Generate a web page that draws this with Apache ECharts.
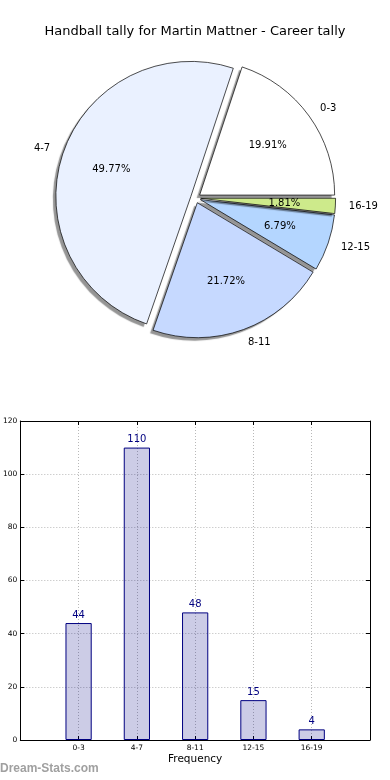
<!DOCTYPE html>
<html>
<head>
<meta charset="utf-8">
<script src="https://cdn.jsdelivr.net/npm/echarts@6/dist/echarts.min.js"></script>
<style>
html,body{margin:0;padding:0;background:#fff;}
#chart{width:390px;height:780px;}
</style>
</head>
<body>
<div id="chart"></div>
<script>
const chartTitle = 'Handball tally for Martin Mattner - Career tally';
const categories = ['0-3', '4-7', '8-11', '12-15', '16-19'];
const tallies = [44, 110, 48, 15, 4];
const yTicks = [0, 20, 40, 60, 80, 100, 120];
const axisName = 'Frequency';
const watermark = 'Dream-Stats.com';

const sliceColors = ['#ffffff', '#eaf1ff', '#c6d9ff', '#b4d6ff', '#cdea8b'];
const FONT = 'DejaVu Sans';
const PIE_R = 135;
const PIE_C = [195.6, 198];
const EXPLODE = 5;

const padCats = [''].concat(categories, ['']);
const padVals = ['-'].concat(tallies, ['-']);
const inner = (i) => i > 0 && i < padCats.length - 1;

const chart = echarts.init(document.getElementById('chart'), null, {renderer: 'canvas'});

const pieBase = {
  type: 'pie',
  center: PIE_C,
  startAngle: 0,
  clockwise: false,
  selectedMode: 'multiple',
  selectedOffset: EXPLODE,
  avoidLabelOverlap: false,
  emphasis: {disabled: true},
  silent: true
};

const option = {
  animation: false,
  backgroundColor: '#ffffff',
  textStyle: {fontFamily: FONT},
  title: {
    text: chartTitle,
    left: 'center',
    top: 20,
    textStyle: {fontFamily: FONT, fontSize: 13, fontWeight: 'normal', color: '#000'}
  },
  graphic: [{
    type: 'text',
    left: 0,
    top: 763,
    style: {text: watermark, fill: '#a0a0a0', font: 'bold 12px "Liberation Sans", sans-serif'}
  }],
  grid: {left: 19, right: 20, top: 421, bottom: 40, containLabel: false},
  xAxis: [{
    type: 'category',
    data: padCats,
    boundaryGap: false,
    position: 'bottom',
    axisLine: {show: true, onZero: false, lineStyle: {color: '#000', width: 1}},
    axisTick: {show: true, inside: true, length: 4, interval: inner, lineStyle: {color: '#000'}},
    axisLabel: {interval: inner, fontSize: 7.5, color: '#000', margin: 4, fontFamily: FONT},
    splitLine: {show: true, interval: inner, lineStyle: {color: '#b8b8b8', type: [1, 2], width: 1}},
    name: axisName,
    nameLocation: 'middle',
    nameGap: 14,
    nameTextStyle: {fontSize: 10.5, color: '#000', fontFamily: FONT, verticalAlign: 'top'}
  }, {
    type: 'category',
    data: padCats,
    boundaryGap: false,
    position: 'top',
    axisLine: {show: true, onZero: false, lineStyle: {color: '#000', width: 1}},
    axisTick: {show: true, inside: true, length: 4, interval: inner, lineStyle: {color: '#000'}},
    axisLabel: {show: false},
    splitLine: {show: false}
  }],
  yAxis: [{
    type: 'value',
    min: yTicks[0],
    max: yTicks[yTicks.length - 1],
    interval: yTicks[1] - yTicks[0],
    position: 'left',
    axisLine: {show: true, lineStyle: {color: '#000', width: 1}},
    axisTick: {show: true, inside: true, length: 4, lineStyle: {color: '#000'}},
    axisLabel: {fontSize: 7.5, color: '#000', margin: 3, fontFamily: FONT},
    splitLine: {show: true, lineStyle: {color: '#b8b8b8', type: [1, 2], width: 1}}
  }, {
    type: 'value',
    min: yTicks[0],
    max: yTicks[yTicks.length - 1],
    interval: yTicks[1] - yTicks[0],
    position: 'right',
    axisLine: {show: true, lineStyle: {color: '#000', width: 1}},
    axisTick: {show: true, inside: true, length: 4, lineStyle: {color: '#000'}},
    axisLabel: {show: false},
    splitLine: {show: false}
  }],
  series: [Object.assign({}, pieBase, {
    // filled wedges with drop shadow (no outline, so the shadow stays outside)
    radius: PIE_R,
    z: 2,
    data: categories.map((c, i) => ({name: c, value: tallies[i], selected: true, itemStyle: {color: sliceColors[i]}})),
    itemStyle: {
      borderWidth: 0,
      shadowColor: 'rgba(0,0,0,0.42)', shadowBlur: 1, shadowOffsetX: -3, shadowOffsetY: 3
    },
    select: {itemStyle: {borderWidth: 0}},
    label: {show: false},
    labelLine: {show: false}
  }), Object.assign({}, pieBase, {
    // wedge outlines + category labels
    radius: PIE_R,
    z: 3,
    data: categories.map((c, i) => ({name: c, value: tallies[i], selected: true})),
    itemStyle: {color: 'rgba(0,0,0,0)', borderColor: '#000', borderWidth: 0.7},
    select: {itemStyle: {color: 'rgba(0,0,0,0)', borderColor: '#000', borderWidth: 0.7}},
    label: {
      show: true, position: 'outside', formatter: '{b}', fontSize: 10, color: '#000',
      fontFamily: FONT, distanceToLabelLine: 0, bleedMargin: 0, overflow: 'none'
    },
    labelLine: {show: false, length: PIE_R * 0.1, length2: 0}
  }), Object.assign({}, pieBase, {
    // percentage labels at 0.6 R
    radius: [PIE_R * 0.2, PIE_R],
    z: 4,
    data: categories.map((c, i) => ({name: c, value: tallies[i], selected: true})),
    itemStyle: {color: 'rgba(0,0,0,0)', borderWidth: 0},
    select: {itemStyle: {color: 'rgba(0,0,0,0)', borderWidth: 0}},
    label: {
      show: true, position: 'inside', formatter: '{d}%', fontSize: 10, color: '#000',
      fontFamily: FONT, textBorderWidth: 0
    },
    labelLine: {show: false}
  }), {
    type: 'bar',
    xAxisIndex: 0,
    yAxisIndex: 0,
    data: padVals,
    barWidth: '45%',
    itemStyle: {color: 'rgba(0,0,128,0.2)', borderColor: '#000080', borderWidth: 1},
    emphasis: {disabled: true},
    label: {show: true, position: 'top', distance: 3, color: '#000080', fontSize: 10, fontFamily: FONT}
  }]
};

chart.setOption(option);
</script>
</body>
</html>
